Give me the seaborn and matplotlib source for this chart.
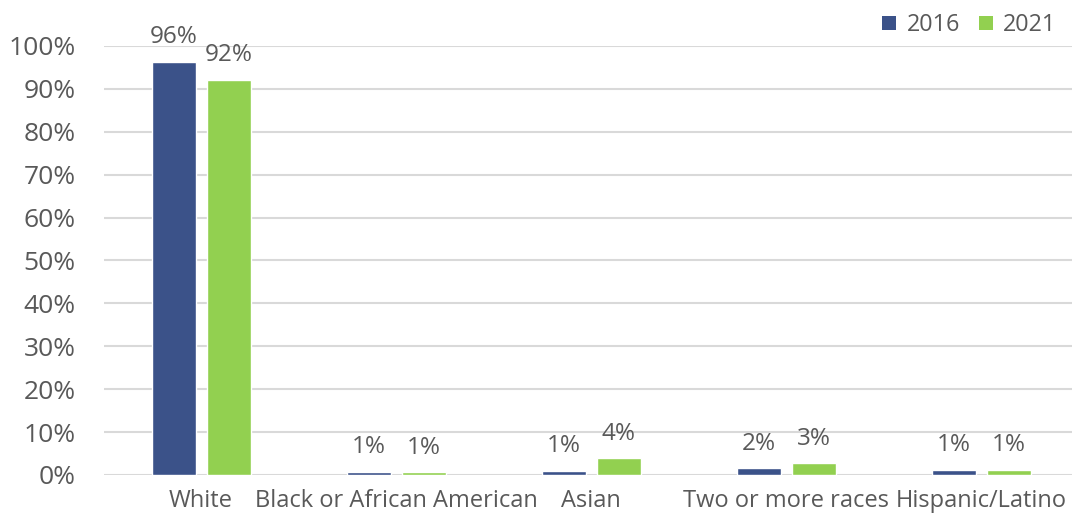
import matplotlib
matplotlib.use("Agg")
import matplotlib.pyplot as plt
import seaborn as sns
import pandas as pd
from matplotlib.patches import Patch

categories = ["White", "Black or African American", "Asian", "Two or more races", "Hispanic/Latino"]
years = ["2016", "2021"]
share_2016 = [96.3, 0.7, 1.0, 1.6, 1.2]
share_2021 = [92.1, 0.6, 3.9, 2.7, 1.2]
yticks = [0, 10, 20, 30, 40, 50, 60, 70, 80, 90, 100]

colors = {"2016": "#3B5289", "2021": "#92D050"}
text_color = "#595959"
grid_color = "#D9D9D9"

df = pd.DataFrame({
    "category": categories * 2,
    "year": [years[0]] * len(categories) + [years[1]] * len(categories),
    "share": share_2016 + share_2021,
})

sns.set_theme(style="white")
plt.rcParams["font.family"] = ["Open Sans", "DejaVu Sans"]

fig = plt.figure(figsize=(10.72, 5.23), dpi=100)
ax = fig.add_axes([0.0966, 0.0918, 0.91, 0.8203])

sns.barplot(data=df, x="category", y="share", hue="year", order=categories,
            hue_order=years, palette=colors, width=0.564, gap=0.2,
            saturation=1, legend=False, ax=ax, zorder=3)

for cont in ax.containers:
    ax.bar_label(cont, labels=[f"{b.get_height():.0f}%" for b in cont],
                 padding=9, fontsize=17.5, color=text_color)

ax.set_ylim(0, 100)
ax.set_xlim(-0.5, 4.5)
ax.set_yticks(yticks)
ax.set_yticklabels([f"{t}%" for t in yticks])
ax.yaxis.grid(True, color=grid_color, linewidth=1.5, zorder=0)
ax.set_axisbelow(True)
for s in ax.spines.values():
    s.set_visible(False)
ax.tick_params(axis="both", length=0, colors=text_color)
ax.tick_params(axis="y", pad=20, labelsize=19)
ax.tick_params(axis="x", pad=10, labelsize=17)
ax.set_xlabel("")
ax.set_ylabel("")

handles = [Patch(facecolor=colors[y], edgecolor="none") for y in years]
fig.legend(handles, years, loc="upper right", bbox_to_anchor=(1.005, 1.015), ncol=2,
           frameon=False, fontsize=16.8, handlelength=0.6, handleheight=0.6,
           handletextpad=0.45, columnspacing=0.8, labelcolor=text_color)

fig.savefig("out.png", dpi=100)
